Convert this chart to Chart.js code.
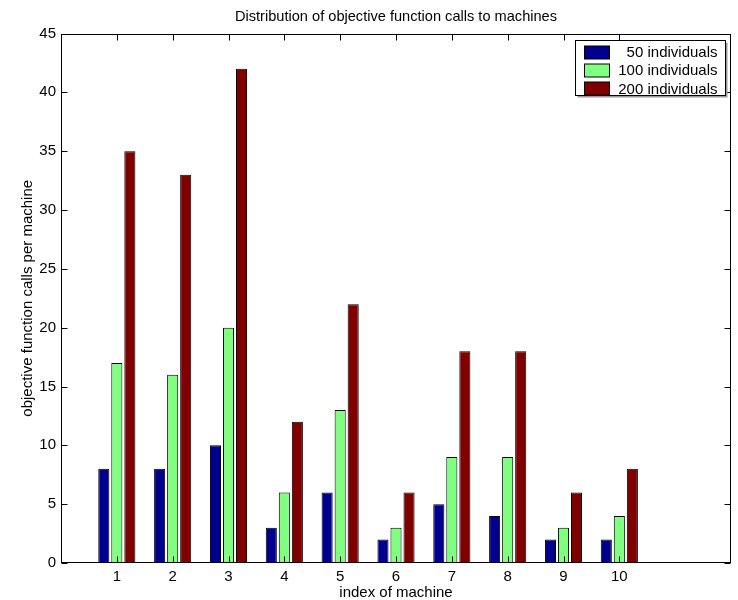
<!DOCTYPE html>
<html>
<head>
<meta charset="utf-8">
<script src="https://cdn.jsdelivr.net/npm/chart.js@4.4.1/dist/chart.umd.min.js"></script>
<style>
  body { margin: 0; background: #fff; }
  #wrap { width: 738px; height: 600px; }
</style>
</head>
<body>
<div id="wrap"><canvas id="barChart" width="738" height="600"></canvas></div>
<script>
// Data
const machines = [1, 2, 3, 4, 5, 6, 7, 8, 9, 10];
const calls50 = [8, 8, 10, 3, 6, 2, 5, 4, 2, 2];
const calls100 = [17, 16, 20, 6, 13, 3, 9, 9, 3, 4];
const calls200 = [35, 33, 42, 12, 22, 6, 18, 18, 6, 8];
const seriesLabels = ["50 individuals", "100 individuals", "200 individuals"];
const seriesColors = ["#00008F", "#80FF80", "#800000"];
const yTicks = [0, 5, 10, 15, 20, 25, 30, 35, 40, 45];

const FONT = "'Liberation Sans', Arial, Helvetica, sans-serif";
Chart.defaults.font.family = FONT;
Chart.defaults.font.size = 15;
Chart.defaults.color = "#000";

function toPoints(values) {
  return machines.map((m, i) => ({ x: m, y: values[i] }));
}

// Box around the axes with inward tick marks (MATLAB style)
const boxTicks = {
  id: "boxTicks",
  afterDatasetsDraw(chart) {
    const { ctx, chartArea: a, scales: { x, y } } = chart;
    const L = Math.round(a.left) + 0.5, R = Math.round(a.right) - 0.5;
    const T = Math.round(a.top) + 0.5, B = Math.round(a.bottom) - 0.5;
    ctx.save();
    ctx.strokeStyle = "#000";
    ctx.lineWidth = 1;
    ctx.beginPath();
    x.ticks.forEach(t => {
      const px = Math.round(x.getPixelForValue(t.value)) + 0.5;
      ctx.moveTo(px, B); ctx.lineTo(px, B - 6);
      ctx.moveTo(px, T); ctx.lineTo(px, T + 6);
    });
    y.ticks.forEach(t => {
      const py = Math.round(y.getPixelForValue(t.value)) + 0.5;
      ctx.moveTo(L, py); ctx.lineTo(L + 6, py);
      ctx.moveTo(R, py); ctx.lineTo(R - 6, py);
    });
    ctx.stroke();
    ctx.strokeRect(L, T, R - L, B - T);
    ctx.restore();
  }
};

// Legend box in the upper right corner of the axes
const boxLegend = {
  id: "boxLegend",
  afterDraw(chart) {
    const { ctx, chartArea: a } = chart;
    const w = 150, h = 55;
    const left = Math.round(a.right) - 6 - w + 0.5;
    const top = Math.round(a.top) + 6 + 0.5;
    ctx.save();
    ctx.fillStyle = "#999";
    ctx.fillRect(left + 2, top + 2, w, h);
    ctx.fillStyle = "#fff";
    ctx.fillRect(left, top, w, h);
    ctx.strokeStyle = "#000";
    ctx.lineWidth = 1;
    ctx.strokeRect(left, top, w, h);
    ctx.font = "15px " + FONT;
    ctx.textAlign = "right";
    ctx.textBaseline = "middle";
    chart.data.datasets.forEach((ds, i) => {
      const cy = top + 11.5 + i * 18.3;
      ctx.fillStyle = ds.backgroundColor;
      ctx.fillRect(left + 9, Math.round(cy - 6.5), 25, 13);
      ctx.strokeRect(left + 9, Math.round(cy - 6.5), 25, 13);
      ctx.fillStyle = "#000";
      ctx.fillText(ds.label, left + w - 8, cy + 1);
    });
    ctx.restore();
  }
};

const ctx = document.getElementById("barChart").getContext("2d");
const chart = new Chart(ctx, {
  type: "bar",
  data: {
    datasets: [calls50, calls100, calls200].map((vals, i) => ({
      label: seriesLabels[i],
      data: toPoints(vals),
      backgroundColor: seriesColors[i],
      borderColor: "#000",
      borderWidth: 1,
      categoryPercentage: 0.7,
      barPercentage: 0.85
    }))
  },
  options: {
    responsive: false,
    animation: false,
    layout: { padding: { left: 0, right: 7, top: 0, bottom: 0 } },
    plugins: {
      legend: { display: false },
      tooltip: { enabled: false },
      title: {
        display: true,
        fullSize: false,
        text: "Distribution of objective function calls to machines",
        font: { size: 14.6, weight: "normal" },
        color: "#000",
        padding: { top: 8.3, bottom: 7.7 }
      }
    },
    scales: {
      x: {
        type: "linear",
        offset: false,
        min: 0,
        max: 12,
        grid: { display: false, drawTicks: false, offset: false },
        border: { display: false },
        afterBuildTicks: scale => { scale.ticks = machines.map(v => ({ value: v })); },
        afterFit: scale => { scale.height = 37; },
        ticks: { padding: 5, maxRotation: 0, callback: v => v },
        title: {
          display: true,
          text: "index of machine",
          font: { size: 15 },
          padding: { top: 0, bottom: -1.5 }
        }
      },
      y: {
        min: 0,
        max: 45,
        grid: { display: false, drawTicks: false },
        border: { display: false },
        afterBuildTicks: scale => { scale.ticks = yTicks.map(v => ({ value: v })); },
        afterFit: scale => { scale.width = 61; },
        ticks: { padding: 5 },
        title: {
          display: true,
          text: "objective function calls per machine",
          font: { size: 15 },
          padding: { top: 18.8, bottom: 0 }
        }
      }
    }
  },
  plugins: [boxTicks, boxLegend]
});
</script>
</body>
</html>
